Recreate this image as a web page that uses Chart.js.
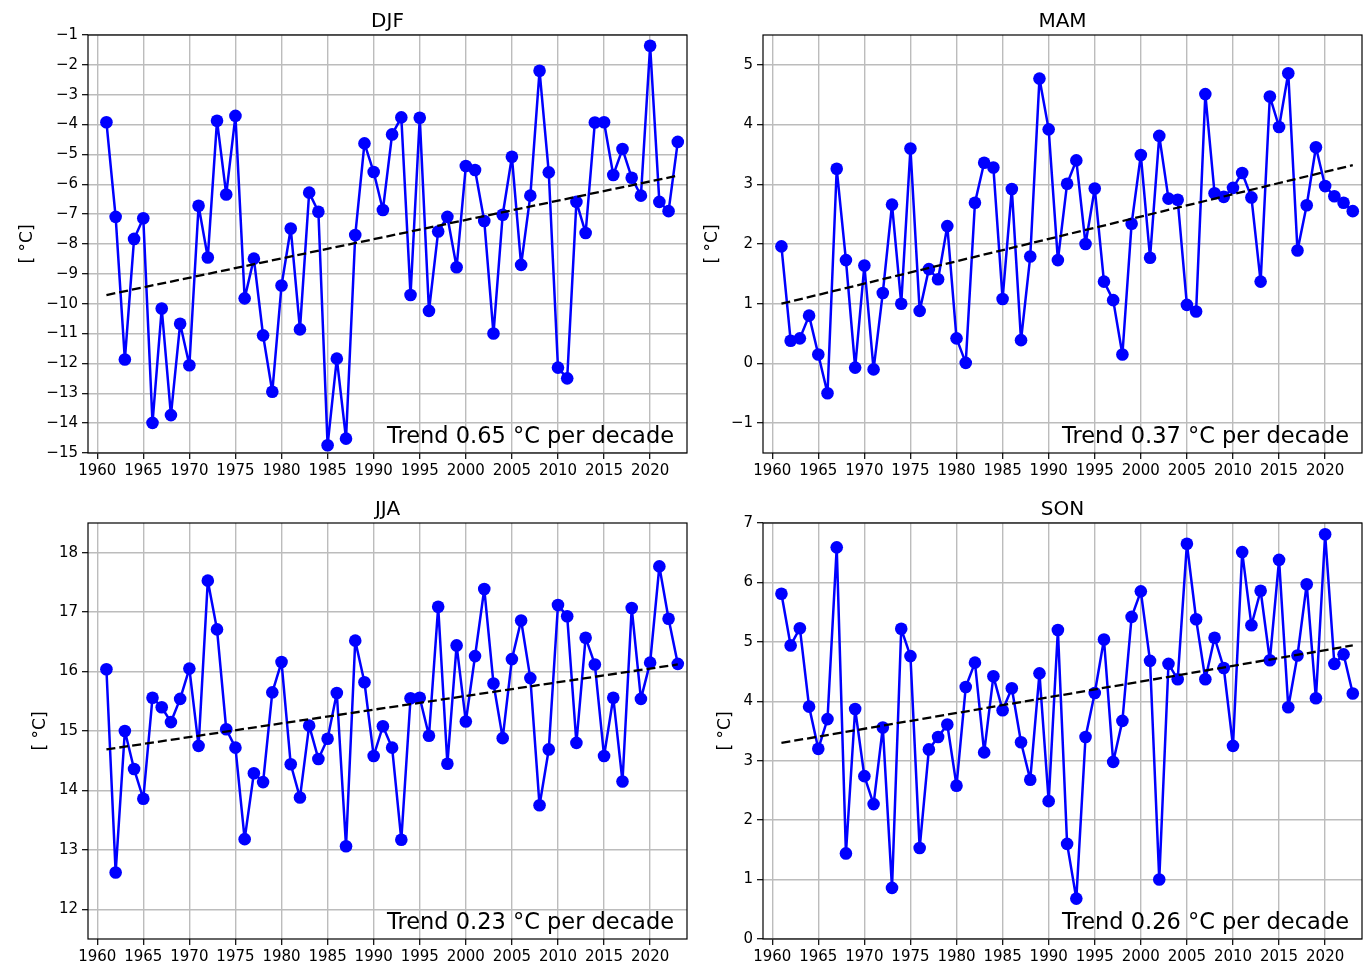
<!DOCTYPE html>
<html>
<head>
<meta charset="utf-8">
<script src="https://cdn.jsdelivr.net/npm/chart.js@4.4.1/dist/chart.umd.min.js"></script>
<style>
	body { margin: 0; background: #fff; }
	canvas { position: absolute; left: 0; top: 0; }
</style>
</head>
<body>
<canvas id="djf" width="1371" height="964"></canvas>
<canvas id="mam" width="1371" height="964"></canvas>
<canvas id="jja" width="1371" height="964"></canvas>
<canvas id="son" width="1371" height="964"></canvas>
<script>
// seasonal mean temperature, 1961-2023
const years = []
for (let y = 1961; y <= 2023; y++) {
	years.push(y)
}
const trendYears = [1961, 2023]
const xTicks = [1960, 1965, 1970, 1975, 1980, 1985, 1990, 1995, 2000, 2005, 2010, 2015, 2020]

const djf = [
	-3.92, -7.09, -11.87, -7.83, -7.14, -13.99, -10.16, -13.73, -10.67, -12.06,
	-6.72, -8.45, -3.87, -6.34, -3.71, -9.82, -8.49, -11.06, -12.95, -9.39,
	-7.48, -10.86, -6.28, -6.92, -14.74, -11.84, -14.52, -7.70, -4.63, -5.59,
	-6.86, -4.33, -3.76, -9.71, -3.77, -10.24, -7.58, -7.09, -8.78, -5.39,
	-5.52, -7.23, -11.00, -7.02, -5.08, -8.70, -6.38, -2.20, -5.60, -12.14,
	-12.50, -6.59, -7.63, -3.93, -3.92, -5.69, -4.82, -5.78, -6.38, -1.36,
	-6.59, -6.90, -4.58,
]
const mam = [
	1.96, 0.38, 0.42, 0.80, 0.15, -0.50, 3.26, 1.73, -0.07, 1.64,
	-0.10, 1.18, 2.66, 1.00, 3.60, 0.88, 1.58, 1.41, 2.30, 0.42,
	0.01, 2.69, 3.36, 3.28, 1.08, 2.92, 0.39, 1.79, 4.77, 3.92,
	1.73, 3.01, 3.40, 2.00, 2.93, 1.37, 1.06, 0.15, 2.34, 3.49,
	1.77, 3.81, 2.76, 2.74, 0.98, 0.87, 4.51, 2.85, 2.79, 2.94,
	3.19, 2.78, 1.37, 4.47, 3.96, 4.86, 1.89, 2.65, 3.62, 2.97,
	2.80, 2.69, 2.55,
]
const jja = [
	16.04, 12.62, 15.00, 14.36, 13.86, 15.56, 15.40, 15.15, 15.54, 16.05,
	14.75, 17.53, 16.71, 15.03, 14.72, 13.18, 14.29, 14.14, 15.65, 16.16,
	14.44, 13.88, 15.09, 14.53, 14.87, 15.64, 13.06, 16.52, 15.82, 14.58,
	15.08, 14.72, 13.17, 15.55, 15.56, 14.92, 17.09, 14.45, 16.44, 15.16,
	16.26, 17.39, 15.80, 14.88, 16.21, 16.86, 15.89, 13.75, 14.69, 17.12,
	16.93, 14.80, 16.57, 16.12, 14.58, 15.56, 14.15, 17.07, 15.54, 16.15,
	17.77, 16.89, 16.13,
]
const son = [
	5.81, 4.94, 5.23, 3.91, 3.20, 3.70, 6.59, 1.44, 3.87, 2.74,
	2.27, 3.56, 0.86, 5.22, 4.76, 1.53, 3.19, 3.40, 3.61, 2.58,
	4.24, 4.65, 3.14, 4.42, 3.85, 4.22, 3.31, 2.68, 4.47, 2.32,
	5.20, 1.60, 0.68, 3.40, 4.14, 5.04, 2.98, 3.67, 5.42, 5.85,
	4.68, 1.00, 4.63, 4.37, 6.65, 5.38, 4.37, 5.07, 4.56, 3.25,
	6.51, 5.28, 5.86, 4.69, 6.38, 3.90, 4.77, 5.97, 4.05, 6.81,
	4.63, 4.79, 4.13,
]

// trend line end points (1961, 2023)
const djfTrend = [-9.71, -5.71]
const mamTrend = [1.00, 3.32]
const jjaTrend = [14.69, 16.12]
const sonTrend = [3.30, 4.94]

const djfTicks = [-15, -14, -13, -12, -11, -10, -9, -8, -7, -6, -5, -4, -3, -2, -1]
const mamTicks = [-1, 0, 1, 2, 3, 4, 5]
const jjaTicks = [12, 13, 14, 15, 16, 17, 18]
const sonTicks = [0, 1, 2, 3, 4, 5, 6, 7]

const panels = [
	{ id: "djf", title: "DJF", values: djf, trend: djfTrend, ticks: djfTicks, min: -15, max: -1, text: "Trend 0.65 °C per decade" },
	{ id: "mam", title: "MAM", values: mam, trend: mamTrend, ticks: mamTicks, min: -1.5, max: 5.5, text: "Trend 0.37 °C per decade" },
	{ id: "jja", title: "JJA", values: jja, trend: jjaTrend, ticks: jjaTicks, min: 11.5, max: 18.5, text: "Trend 0.23 °C per decade" },
	{ id: "son", title: "SON", values: son, trend: sonTrend, ticks: sonTicks, min: 0, max: 7, text: "Trend 0.26 °C per decade" },
]

// plot boxes in page pixels: left, right, top, bottom, y label x
const boxes = {
	djf: { left: 88, right: 687, top: 35, bottom: 453, labelX: 28 },
	mam: { left: 763, right: 1362, top: 35, bottom: 453, labelX: 713 },
	jja: { left: 88, right: 687, top: 523, bottom: 939, labelX: 41 },
	son: { left: 763, right: 1362, top: 523, bottom: 939, labelX: 726 },
}

const W = 1371
const H = 964
const FONT = '"DejaVu Sans", "Liberation Sans", sans-serif'

const decorations = {
	id: "decorations",
	afterDraw(chart, args, opts) {
		const ctx = chart.ctx
		const a = chart.chartArea
		ctx.save()
		ctx.strokeStyle = "#000"
		ctx.lineWidth = 1.2
		ctx.strokeRect(a.left, a.top, a.right - a.left, a.bottom - a.top)

		ctx.fillStyle = "#000"
		ctx.textBaseline = "alphabetic"
		ctx.font = "20px " + FONT
		ctx.textAlign = "center"
		ctx.fillText(opts.title, (a.left + a.right) / 2, a.top - 8)

		ctx.font = "22.5px " + FONT
		ctx.textAlign = "right"
		ctx.fillText(opts.text, a.right - 13, a.bottom - 10)

		ctx.translate(opts.labelX, (a.top + a.bottom) / 2)
		ctx.rotate(-Math.PI / 2)
		ctx.font = "17px " + FONT
		ctx.textAlign = "center"
		ctx.textBaseline = "middle"
		ctx.fillText("[ °C]", 0, 0)
		ctx.restore()
	},
}

function fmt(v) {
	return v < 0 ? "\u2212" + Math.abs(v) : String(v)
}

for (const p of panels) {
	const box = boxes[p.id]
	const grid = {
		color: "#bcbcbc",
		lineWidth: 1.4,
		tickLength: 6,
		tickColor: "#000",
		tickWidth: 1.2,
	}
	new Chart(document.getElementById(p.id), {
		type: "line",
		data: {
			datasets: [{
				data: trendYears.map((y, i) => ({ x: y, y: p.trend[i] })),
				borderColor: "#000",
				borderWidth: 2.3,
				borderDash: [9, 4],
				pointRadius: 0,
				fill: false,
			}, {
				data: years.map((y, i) => ({ x: y, y: p.values[i] })),
				borderColor: "#0000ff",
				backgroundColor: "#0000ff",
				borderWidth: 2.5,
				borderJoinStyle: "round",
				borderCapStyle: "round",
				pointRadius: 6.3,
				pointBorderWidth: 0,
				pointBackgroundColor: "#0000ff",
				tension: 0,
				fill: false,
			}],
		},
		options: {
			responsive: false,
			animation: false,
			events: [],
			layout: {
				padding: { left: 0, top: box.top, right: W - box.right, bottom: 0 },
			},
			plugins: {
				legend: { display: false },
				tooltip: { enabled: false },
				decorations: { title: p.title, text: p.text, labelX: box.labelX },
			},
			scales: {
				x: {
					type: "linear",
					min: 1959,
					max: 2024,
					afterBuildTicks: (s) => { s.ticks = xTicks.map(v => ({ value: v })) },
					afterFit: (s) => { s.height = H - box.bottom },
					grid: grid,
					border: { display: false },
					ticks: {
						font: { family: FONT, size: 15 },
						color: "#000",
						padding: 3,
						maxRotation: 0,
						autoSkip: false,
						callback: (v) => String(v),
					},
				},
				y: {
					type: "linear",
					min: p.min,
					max: p.max,
					afterBuildTicks: (s) => { s.ticks = p.ticks.map(v => ({ value: v })) },
					afterFit: (s) => { s.width = box.left },
					grid: grid,
					border: { display: false },
					ticks: {
						font: { family: FONT, size: 15 },
						color: "#000",
						padding: 4,
						autoSkip: false,
						callback: fmt,
					},
				},
			},
		},
		plugins: [decorations],
	})
}
</script>
</body>
</html>
